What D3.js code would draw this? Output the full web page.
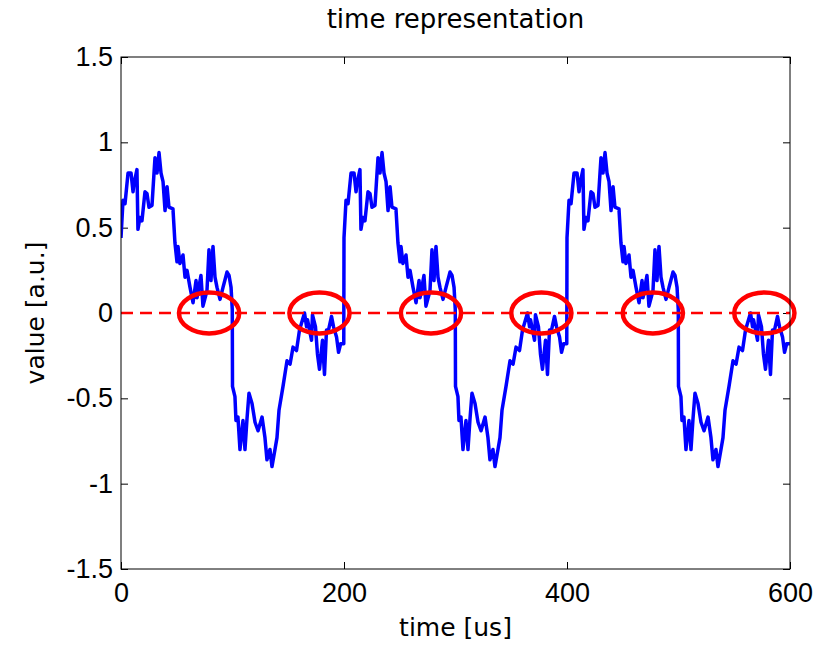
<!DOCTYPE html>
<html>
<head>
<meta charset="utf-8">
<script src="https://cdn.jsdelivr.net/npm/d3@7"></script>
<style>
  body { margin: 0; background: #fff; }
  svg { display: block; }
  .tick text { font-family: "Liberation Sans", Arial, sans-serif; font-size: 27px; fill: #000; }
  .lbl { font-family: "DejaVu Sans", sans-serif; font-size: 25px; fill: #000; }
</style>
</head>
<body>
<div id="chart"></div>
<script>
// signal: time in us, value in a.u.
var timeUs = [
  0,1.8,3.6,6.3,9.0,10.8,11.7,14.3,15.2,17.0,
  18.8,21.5,23.3,25.1,27.8,29.6,30.5,32.3,34.1,35.9,
  37.7,39.5,41.3,43.0,46.6,48.4,50.2,51.1,52.9,55.6,
  57.4,59.2,61.9,64.6,67.3,68.2,71.7,73.5,77.1,78.9,
  80.7,82.5,84.3,86.1,88.8,91.5,95.1,96.9,98.7,99.8,
  100.0,102.2,103.1,104.9,106.7,109.4,111.2,113.0,114.8,117.5,
  120.2,122.9,126.5,129.1,130.9,133.6,135.4,138.1,139.9,141.7,
  145.3,148.9,151.6,154.3,157.4,160.1,162.8,164.6,166.4,167.3,
  170.9,171.7,174.4,176.2,178.0,180.7,182.5,184.3,186.1,188.8,
  190.6,193.3,195.1,197.0,199.8,
  200,201.8,203.6,206.3,209.0,210.8,211.7,214.3,215.2,217.0,
  218.8,221.5,223.3,225.1,227.8,229.6,230.5,232.3,234.1,235.9,
  237.7,239.5,241.3,243.0,246.6,248.4,250.2,251.1,252.9,255.6,
  257.4,259.2,261.9,264.6,267.3,268.2,271.7,273.5,277.1,278.9,
  280.7,282.5,284.3,286.1,288.8,291.5,295.1,296.9,298.7,299.8,
  300.0,302.2,303.1,304.9,306.7,309.4,311.2,313.0,314.8,317.5,
  320.2,322.9,326.5,329.1,330.9,333.6,335.4,338.1,339.9,341.7,
  345.3,348.9,351.6,354.3,357.4,360.1,362.8,364.6,366.4,367.3,
  370.9,371.7,374.4,376.2,378.0,380.7,382.5,384.3,386.1,388.8,
  390.6,393.3,395.1,397.0,399.8,
  400,401.8,403.6,406.3,409.0,410.8,411.7,414.3,415.2,417.0,
  418.8,421.5,423.3,425.1,427.8,429.6,430.5,432.3,434.1,435.9,
  437.7,439.5,441.3,443.0,446.6,448.4,450.2,451.1,452.9,455.6,
  457.4,459.2,461.9,464.6,467.3,468.2,471.7,473.5,477.1,478.9,
  480.7,482.5,484.3,486.1,488.8,491.5,495.1,496.9,498.7,499.8,
  500.0,502.2,503.1,504.9,506.7,509.4,511.2,513.0,514.8,517.5,
  520.2,522.9,526.5,529.1,530.9,533.6,535.4,538.1,539.9,541.7,
  545.3,548.9,551.6,554.3,557.4,560.1,562.8,564.6,566.4,567.3,
  570.9,571.7,574.4,576.2,578.0,580.7,582.5,584.3,586.1,588.8,
  590.6,593.3,595.1,597.0,599.8
];
var valueAU = [
  0.44,0.66,0.64,0.82,0.82,0.71,0.76,0.84,0.49,0.56,
  0.54,0.71,0.70,0.62,0.63,0.82,0.91,0.82,0.94,0.82,
  0.77,0.60,0.74,0.62,0.61,0.41,0.30,0.39,0.29,0.34,
  0.21,0.25,0.15,0.06,0.19,0.09,0.22,0.04,0.13,0.37,
  0.19,0.39,0.21,0.15,0.08,0.15,0.24,0.22,0.15,0.02,
  -0.43,-0.49,-0.63,-0.61,-0.80,-0.63,-0.80,-0.62,-0.47,-0.53,
  -0.64,-0.69,-0.61,-0.73,-0.86,-0.80,-0.90,-0.80,-0.73,-0.57,
  -0.43,-0.28,-0.30,-0.20,-0.22,-0.10,-0.04,0.00,-0.08,-0.04,
  -0.16,-0.01,-0.08,-0.24,-0.33,-0.16,-0.36,-0.10,-0.10,-0.02,
  -0.08,-0.14,-0.23,-0.18,-0.18,
  0.44,0.66,0.64,0.82,0.82,0.71,0.76,0.84,0.49,0.56,
  0.54,0.71,0.70,0.62,0.63,0.82,0.91,0.82,0.94,0.82,
  0.77,0.60,0.74,0.62,0.61,0.41,0.30,0.39,0.29,0.34,
  0.21,0.25,0.15,0.06,0.19,0.09,0.22,0.04,0.13,0.37,
  0.19,0.39,0.21,0.15,0.08,0.15,0.24,0.22,0.15,0.02,
  -0.43,-0.49,-0.63,-0.61,-0.80,-0.63,-0.80,-0.62,-0.47,-0.53,
  -0.64,-0.69,-0.61,-0.73,-0.86,-0.80,-0.90,-0.80,-0.73,-0.57,
  -0.43,-0.28,-0.30,-0.20,-0.22,-0.10,-0.04,0.00,-0.08,-0.04,
  -0.16,-0.01,-0.08,-0.24,-0.33,-0.16,-0.36,-0.10,-0.10,-0.02,
  -0.08,-0.14,-0.23,-0.18,-0.18,
  0.44,0.66,0.64,0.82,0.82,0.71,0.76,0.84,0.49,0.56,
  0.54,0.71,0.70,0.62,0.63,0.82,0.91,0.82,0.94,0.82,
  0.77,0.60,0.74,0.62,0.61,0.41,0.30,0.39,0.29,0.34,
  0.21,0.25,0.15,0.06,0.19,0.09,0.22,0.04,0.13,0.37,
  0.19,0.39,0.21,0.15,0.08,0.15,0.24,0.22,0.15,0.02,
  -0.43,-0.49,-0.63,-0.61,-0.80,-0.63,-0.80,-0.62,-0.47,-0.53,
  -0.64,-0.69,-0.61,-0.73,-0.86,-0.80,-0.90,-0.80,-0.73,-0.57,
  -0.43,-0.28,-0.30,-0.20,-0.22,-0.10,-0.04,0.00,-0.08,-0.04,
  -0.16,-0.01,-0.08,-0.24,-0.33,-0.16,-0.36,-0.10,-0.10,-0.02,
  -0.08,-0.14,-0.23,-0.18,-0.18
];

// red marks around the zero crossings (centre time, in us)
var markTime = [79, 178, 278, 377, 477, 577];
var markHalfWidth = 27;   // us
var markHalfHeight = 0.12; // a.u.

var zeroLevel = 0;
var xTicks = [0, 200, 400, 600];
var yTicks = [-1.5, -1, -0.5, 0, 0.5, 1, 1.5];
var yTickLabels = ["-1.5", "-1", "-0.5", "0", "0.5", "1", "1.5"];

var W = 827, H = 645;
var margin = {top: 57, right: 37, bottom: 76, left: 121},
    width = W - margin.left - margin.right,
    height = H - margin.top - margin.bottom;

var x = d3.scaleLinear().domain([0, 600]).range([0, width]);
var y = d3.scaleLinear().domain([-1.5, 1.5]).range([height, 0]);

var svg = d3.select("#chart").append("svg")
    .attr("width", W)
    .attr("height", H);

var g = svg.append("g")
    .attr("transform", "translate(" + margin.left + "," + margin.top + ")");

g.append("clipPath").attr("id", "clip")
  .append("rect").attr("width", width).attr("height", height);

// axes, ticks pointing inwards
var xAxis = d3.axisBottom(x).tickValues(xTicks).tickFormat(d3.format("d"))
    .tickSizeInner(-7).tickSizeOuter(0).tickPadding(14);
var xAxisTop = d3.axisTop(x).tickValues(xTicks).tickFormat("")
    .tickSizeInner(-7).tickSizeOuter(0);
var yAxis = d3.axisLeft(y).tickValues(yTicks)
    .tickFormat(function(d, i) { return yTickLabels[i]; })
    .tickSizeInner(-7).tickSizeOuter(0).tickPadding(8);
var yAxisRight = d3.axisRight(y).tickValues(yTicks).tickFormat("")
    .tickSizeInner(-7).tickSizeOuter(0);

function clean(sel) {
  sel.select(".domain").remove();
  sel.selectAll(".tick line").attr("stroke", "#000");
}

g.append("g").attr("transform", "translate(0," + height + ")").call(xAxis).call(clean);
g.append("g").call(xAxisTop).call(clean);
g.append("g").call(yAxis).call(clean);
g.append("g").attr("transform", "translate(" + width + ",0)").call(yAxisRight).call(clean);

// signal
var pts = timeUs.map(function(t, i) { return [t, valueAU[i]]; });
var line = d3.line()
    .x(function(d) { return x(d[0]); })
    .y(function(d) { return y(d[1]); });

g.append("path")
    .datum(pts)
    .attr("clip-path", "url(#clip)")
    .attr("fill", "none")
    .attr("stroke", "#0000ff")
    .attr("stroke-width", 3.5)
    .attr("stroke-linejoin", "round")
    .attr("d", line);

// dashed zero line
g.append("line")
    .attr("x1", x(0)).attr("x2", x(600))
    .attr("y1", y(zeroLevel)).attr("y2", y(zeroLevel))
    .attr("stroke", "#ff0000")
    .attr("stroke-width", 2.5)
    .attr("stroke-dasharray", "12,7");

// ellipses
g.selectAll("ellipse.mark")
    .data(markTime)
  .enter().append("ellipse")
    .attr("class", "mark")
    .attr("cx", function(d) { return x(d); })
    .attr("cy", y(zeroLevel))
    .attr("rx", x(markHalfWidth) - x(0))
    .attr("ry", y(0) - y(markHalfHeight))
    .attr("fill", "none")
    .attr("stroke", "#ff0000")
    .attr("stroke-width", 4.5);

// frame
g.append("rect")
    .attr("width", width).attr("height", height)
    .attr("fill", "none").attr("stroke", "#000").attr("stroke-width", 1);

// labels
svg.append("text").attr("class", "lbl")
    .attr("x", margin.left + width / 2).attr("y", 28)
    .attr("text-anchor", "middle")
    .style("font-size", "26px")
    .text("time representation");

svg.append("text").attr("class", "lbl")
    .attr("x", margin.left + width / 2).attr("y", 636)
    .attr("text-anchor", "middle")
    .text("time [us]");

svg.append("text").attr("class", "lbl")
    .attr("transform", "translate(44," + (margin.top + height / 2) + ") rotate(-90)")
    .attr("text-anchor", "middle")
    .text("value [a.u.]");
</script>
</body>
</html>
